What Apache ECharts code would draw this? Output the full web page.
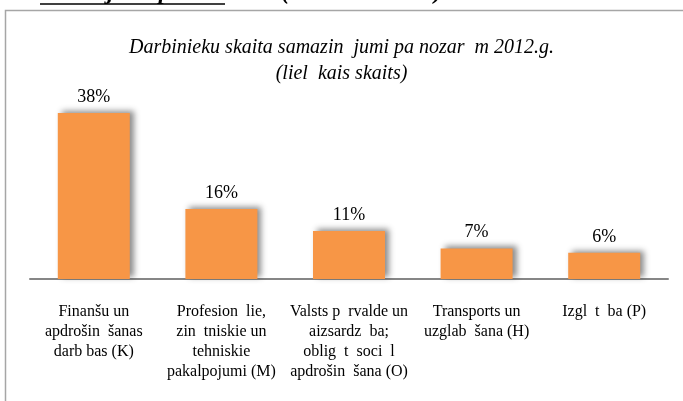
<!DOCTYPE html>
<html>
<head>
<meta charset="utf-8">
<script src="https://cdn.jsdelivr.net/npm/echarts@6/dist/echarts.min.js"></script>
<style>
  html, body { margin: 0; padding: 0; background: #fff; }
  #chart { width: 683px; height: 401px; }
</style>
</head>
<body>
<div id="chart"></div>
<script>
// categories (missing glyphs from the source left as gaps)
const categories = [
  'Finanšu un\napdrošin  šanas\ndarb bas (K)',
  'Profesion  lie,\nzin  tniskie un\ntehniskie\npakalpojumi (M)',
  'Valsts p  rvalde un\naizsardz  ba;\noblig  t  soci  l\napdrošin  šana (O)',
  'Transports un\nuzglab  šana (H)',
  'Izgl  t  ba (P)'
];
const shares = [38, 16, 11, 7, 6];
const titleLines = ['Darbinieku skaita samazin  jumi pa nozar  m 2012.g.', '(liel  kais skaits)'];

const serif = '"Liberation Serif", "DejaVu Serif", serif';

const chart = echarts.init(document.getElementById('chart'));
chart.setOption({
  animation: false,
  backgroundColor: '#fff',
  textStyle: { fontFamily: serif },
  title: {
    text: titleLines.join('\n'),
    left: 'center',
    top: 30,
    textStyle: {
      fontFamily: serif,
      fontStyle: 'italic',
      fontWeight: 'normal',
      fontSize: 20,
      lineHeight: 26,
      color: '#000'
    }
  },
  graphic: [
    // clipped line of the surrounding document
    {
      type: 'text',
      left: -4,
      top: -19,
      style: {
        text: 'a samazin  jumi pa nozar  m (liel  kais skaits)',
        font: 'italic bold 24px ' + serif,
        fill: '#000'
      }
    },
    {
      type: 'line',
      shape: { x1: 40, y1: 4, x2: 225, y2: 4 },
      style: { stroke: '#000', lineWidth: 1.5 }
    },
    // chart frame
    {
      type: 'rect',
      shape: { x: 5.5, y: 10.5, width: 700, height: 420 },
      style: { fill: 'none', stroke: '#a6a6a6', lineWidth: 1.5 },
      z: -1
    }
  ],
  grid: {
    left: 30,
    right: 15,
    top: 113,
    bottom: 122
  },
  xAxis: {
    type: 'category',
    data: categories,
    axisLine: { lineStyle: { color: '#868686', width: 2 } },
    axisTick: { show: false },
    axisLabel: {
      interval: 0,
      margin: 23,
      color: '#000',
      fontFamily: serif,
      fontSize: 16,
      lineHeight: 20,
      align: 'center'
    }
  },
  yAxis: {
    type: 'value',
    min: 0,
    max: 38,
    show: false,
    splitLine: { show: false }
  },
  series: [{
    type: 'bar',
    data: shares,
    barWidth: 72,
    itemStyle: {
      color: '#F79646',
      shadowColor: 'rgba(0,0,0,0.45)',
      shadowBlur: 6,
      shadowOffsetX: 4,
      shadowOffsetY: -2
    },
    label: {
      show: true,
      position: 'top',
      distance: 7,
      formatter: '{c}%',
      color: '#000',
      fontFamily: serif,
      fontSize: 18
    }
  }]
});
</script>
</body>
</html>
